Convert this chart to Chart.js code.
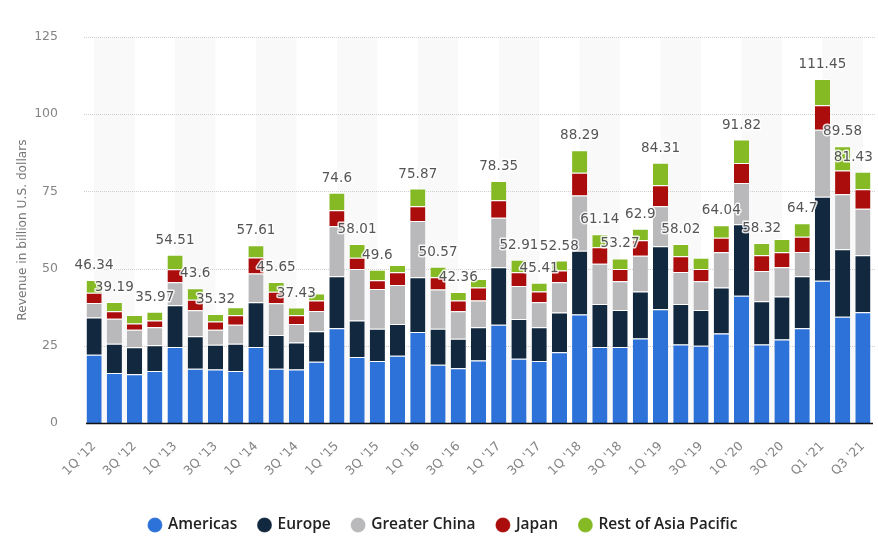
<!DOCTYPE html>
<html><head><meta charset="utf-8">
<style>html,body{margin:0;padding:0;background:#fff}#w{width:878px;height:553px;position:relative}</style>
<script src="https://cdn.jsdelivr.net/npm/chart.js@4"></script>
</head><body><div id="w"><canvas id="c" width="878" height="553"></canvas></div>
<script>
const quarters = ["1Q '12","2Q '12","3Q '12","4Q '12","1Q '13","2Q '13","3Q '13","4Q '13","1Q '14","2Q '14","3Q '14","4Q '14","1Q '15","2Q '15","3Q '15","4Q '15","1Q '16","2Q '16","3Q '16","4Q '16","1Q '17","2Q '17","3Q '17","4Q '17","1Q '18","2Q '18","3Q '18","4Q '18","1Q '19","2Q '19","3Q '19","4Q '19","1Q '20","2Q '20","3Q '20","4Q '20","Q1 '21","Q2 '21","Q3 '21"];
const americas = [22.1,16.2,15.8,16.8,24.6,17.6,17.3,16.8,24.6,17.6,17.3,19.8,30.7,21.4,20.1,21.8,29.5,18.9,17.7,20.2,31.8,20.8,20.1,22.9,35.1,24.6,24.6,27.4,36.8,25.4,25.0,29.0,41.2,25.4,27.0,30.7,46.1,34.4,35.9];
const europe = [12.1,9.5,8.7,8.4,13.5,10.5,8.0,8.9,14.5,10.9,8.8,9.9,16.8,11.8,10.4,10.3,17.7,11.6,9.6,10.8,18.6,12.9,10.9,12.9,20.7,13.9,12.0,15.2,20.4,13.1,11.6,14.9,23.2,14.0,14.0,16.8,27.2,21.9,18.4];
const greaterChina = [4.7,8.1,5.7,5.8,7.5,8.4,4.9,6.1,9.3,10.3,6.0,6.6,16.2,16.7,12.9,12.6,18.2,12.7,8.9,8.7,16.1,10.7,8.1,9.8,17.9,13.1,9.3,11.6,13.0,10.4,9.3,11.4,13.3,9.8,9.4,7.9,21.7,17.8,15.1];
const japan = [3.3,2.4,2.0,2.2,4.2,3.4,2.7,3.1,5.2,3.7,2.8,3.4,5.2,3.6,2.8,4.1,4.8,4.0,3.5,4.2,5.6,4.4,3.5,3.8,7.3,5.3,4.0,5.0,6.8,5.1,4.0,4.7,6.5,5.1,4.9,4.9,7.9,7.7,6.3];
const restOfAsia = [4.1,3.0,2.8,2.8,4.7,3.7,2.4,2.6,4.0,3.2,2.5,2.2,5.7,4.5,3.4,2.4,5.7,3.4,2.7,2.7,6.3,4.1,2.8,3.2,7.3,4.2,3.4,3.7,7.3,4.0,3.6,4.0,7.6,4.0,4.3,4.4,8.5,7.8,5.7];
const totalLabels = ["46.34","39.19",null,"35.97","54.51","43.6","35.32",null,"57.61","45.65","37.43",null,"74.6","58.01","49.6",null,"75.87","50.57","42.36",null,"78.35","52.91","45.41","52.58","88.29","61.14","53.27","62.9","84.31","58.02",null,"64.04","91.82","58.32",null,"64.7","111.45","89.58","81.43"];
const seriesNames = ["Americas","Europe","Greater China","Japan","Rest of Asia Pacific"];
const seriesColors = ["#2d72d9","#12283f","#b9b9bb","#ab0d0d","#85ba25"];
const seriesValues = [americas,europe,greaterChina,japan,restOfAsia];

const extras = {
  id:'extras',
  afterLayout(chart){
    const l=chart.legend;
    const dx=7, dy=519-(l.top+l.height/2);
    l.left+=dx;l.right+=dx;l.top+=dy;l.bottom+=dy;
  },
  beforeDatasetsDraw(chart){
    const {ctx,chartArea:a,scales:{x,y}}=chart;
    ctx.save();ctx.fillStyle='#f9f9f9';
    quarters.forEach((q,i)=>{ if(i%4===0 && i+2<quarters.length){
      const p0=x.getPixelForValue(i),p1=x.getPixelForValue(i+2);
      ctx.fillRect(p0,a.top,p1-p0,a.bottom-a.top);
    }});
    ctx.restore();
    ctx.save();ctx.strokeStyle='#cfcfcf';ctx.lineWidth=1;ctx.setLineDash([1,1]);
    y.ticks.forEach(t=>{ if(t.value>0){const p=Math.round(y.getPixelForValue(t.value))+.5;
      ctx.beginPath();ctx.moveTo(a.left,p);ctx.lineTo(a.right+2,p);ctx.stroke();}});
    ctx.restore();
  },
  afterDatasetsDraw(chart){
    const {ctx,chartArea:a,scales:{x,y}}=chart;
    ctx.save();
    ctx.font='13.5px "DejaVu Sans"';ctx.textAlign='center';ctx.textBaseline='middle';
    ctx.letterSpacing='0.1px';ctx.lineJoin='round';
    const stack=quarters.map((_,i)=>seriesValues.reduce((s,v)=>s+v[i],0));
    totalLabels.forEach((t,i)=>{
      if(!t)return;
      const w=ctx.measureText(t).width;
      const px=Math.min(x.getPixelForValue(i),a.right-w/2),py=y.getPixelForValue(stack[i])-14.5;
      ctx.strokeStyle='rgba(255,255,255,.85)';ctx.lineWidth=3;ctx.strokeText(t,px,py);
      ctx.fillStyle='#555';ctx.fillText(t,px,py);
    });
    ctx.restore();
    ctx.save();ctx.strokeStyle='#111';ctx.lineWidth=1.5;
    ctx.beginPath();ctx.moveTo(a.left+2,a.bottom+.5);ctx.lineTo(a.right,a.bottom+.5);ctx.stroke();
    ctx.restore();
  }
};

new Chart(document.getElementById('c'),{
  type:'bar',
  data:{labels:quarters,datasets:seriesNames.map((n,i)=>({
    label:n,data:seriesValues[i],backgroundColor:seriesColors[i],
    borderColor:'#fff',borderWidth:{top:1},borderSkipped:false,
    categoryPercentage:1,barPercentage:0.75
  }))},
  options:{
    responsive:false,animation:false,devicePixelRatio:1,
    layout:{padding:{left:0,right:5,top:37,bottom:0}},
    plugins:{
      tooltip:{enabled:false},
      legend:{position:'bottom',
        labels:{usePointStyle:true,pointStyle:'circle',boxWidth:10.6,boxHeight:10.6,padding:22,color:'#222',
          font:{family:'"Open Sans"',size:15.5,weight:'600'}}}
    },
    scales:{
      x:{stacked:true,grid:{display:false},border:{display:false},
        afterFit(s){s.height=130-s.chart.legend.height;s.paddingLeft=0;s.paddingRight=0;},
        ticks:{autoSkip:false,maxRotation:45,minRotation:45,color:'#858585',padding:8,
          font:{family:'"DejaVu Sans"',size:12.5},
          callback(v,i){return i%2===0?quarters[i]:null}}},
      y:{stacked:true,min:0,max:125,
        afterFit(s){s.width=84;},
        grid:{display:false},border:{display:false},
        title:{display:true,text:'Revenue in billion U.S. dollars',color:'#757575',font:{family:'"DejaVu Sans"',size:12.2},padding:{top:16,bottom:0}},
        ticks:{stepSize:25,color:'#858585',padding:18,font:{family:'"DejaVu Sans"',size:12.5}}}
    }
  },
  plugins:[extras]
});
</script></body></html>
